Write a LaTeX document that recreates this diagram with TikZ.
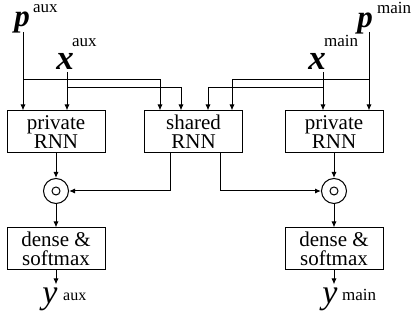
\documentclass[tikz,border=0pt]{standalone}
\usepackage{fontspec}
\setmainfont{Liberation Serif}
\usetikzlibrary{arrows.meta}
\newcommand\pfnt{\fontsize{31}{31}\selectfont\bfseries\itshape}
\newcommand\xfnt{\fontsize{35}{35}\selectfont\bfseries\itshape}
\newcommand\yfnt{\fontsize{34}{34}\selectfont\itshape}
\newcommand\supfnt{\fontsize{17}{17}\selectfont}
\begin{document}
\begin{tikzpicture}[x=1pt,y=-1pt,
  box/.style={draw, line width=1pt, minimum width=98pt, minimum height=42pt, inner sep=0pt, align=center, font=\fontsize{21}{19}\selectfont},
  opc/.style={draw, circle, line width=1pt, minimum size=25pt, inner sep=0pt},
  dotc/.style={draw, circle, line width=1pt, minimum size=8pt, inner sep=0pt},
  arr/.style={-{Latex[length=6pt,width=5pt]}, line width=1pt},
  lab/.style={inner sep=0pt, anchor=base},
  sup/.style={inner sep=0pt, anchor=base west, font=\supfnt}]
\useasboundingbox (0,0) rectangle (413,320);
% boxes
\node[box] (pl) at (56,132) {private\\RNN};
\node[box] (sh) at (193.5,132) {shared\\RNN};
\node[box] (pr) at (334,132) {private\\RNN};
\node[opc] (cl) at (56,191) {};
\node[dotc] (cld) at (56,191) {};
\node[opc] (cr) at (334,191) {};
\node[dotc] (crd) at (334,191) {};
\node[box] (dl) at (56,249) {dense \&\\softmax};
\node[box] (dr) at (334,249) {dense \&\\softmax};
% inputs
\node[lab] (pa) at (22,27) {\pfnt p};
\node[sup] (pas) at (33,13) {aux};
\node[lab] (xa) at (65,70) {\xfnt x};
\node[sup] (xas) at (72,47) {aux};
\node[lab] (pm) at (365,28) {\pfnt p};
\node[sup] (pms) at (377,14) {main};
\node[lab] (xm) at (317,70) {\xfnt x};
\node[sup] (xms) at (324,47) {main};
% outputs
\node[lab] (ya) at (50,304) {\yfnt y};
\node[sup, font=\fontsize{16}{16}\selectfont] (yas) at (63,301) {aux};
\node[lab] (ym) at (330,304) {\yfnt y};
\node[sup] (yms) at (342,301) {main};
% coordinates
\coordinate (pa0) at (23,32);
\coordinate (xa0) at (67,72);
\coordinate (pm0) at (369,32);
\coordinate (xm0) at (323,72);
% input connectors
\draw[arr] (pa0) -- (pa0 |- pl.north);
\draw[arr] (xa0) -- (xa0 |- pl.north);
\draw[arr] (pm0) -- (pm0 |- pr.north);
\draw[arr] (xm0) -- (xm0 |- pr.north);
\draw[arr] (pa0 |- 0,80) -| ([xshift=160pt]sh.north -| 0,0);
\draw[arr] (xa0 |- 0,88) -| ([xshift=181pt]sh.north -| 0,0);
\draw[arr] (xm0 |- 0,88) -| ([xshift=208pt]sh.north -| 0,0);
\draw[arr] (pm0 |- 0,80) -| ([xshift=232pt]sh.north -| 0,0);
% lower connectors
\draw[arr] (pl.south) -- (cl.north);
\draw[arr] (pr.south) -- (cr.north);
\draw[arr] ([xshift=170pt]sh.south -| 0,0) |- (cl.east);
\draw[arr] ([xshift=220pt]sh.south -| 0,0) |- (cr.west);
\draw[arr] (cl.south) -- (dl.north);
\draw[arr] (cr.south) -- (dr.north);
\draw[arr] (dl.south) -- ++(0,14);
\draw[arr] (dr.south) -- ++(0,14);
\end{tikzpicture}
\end{document}
